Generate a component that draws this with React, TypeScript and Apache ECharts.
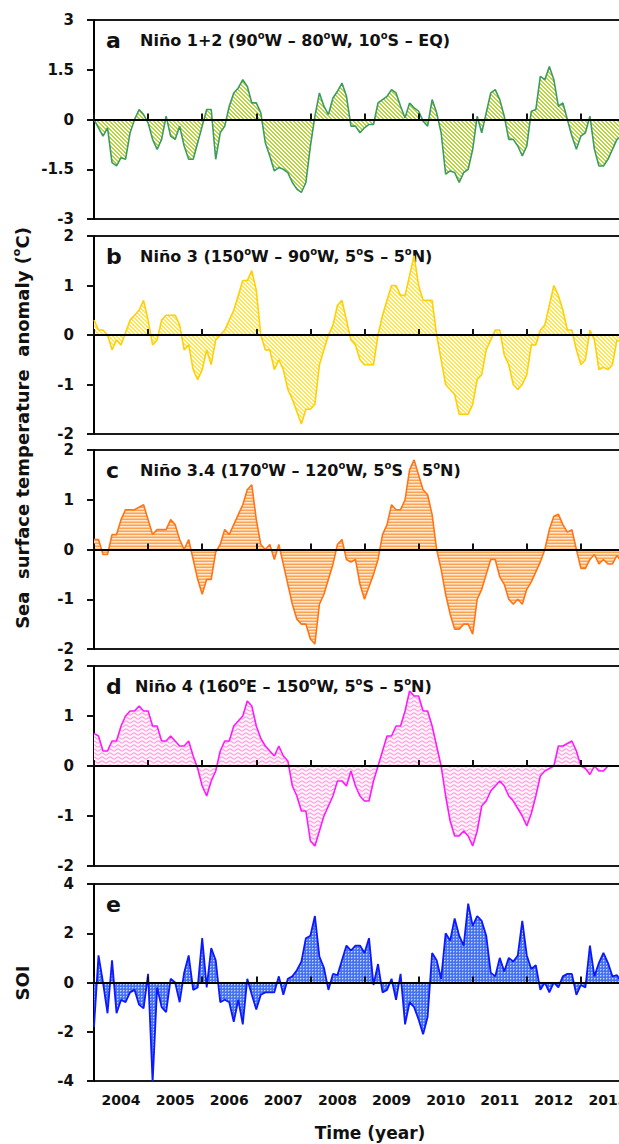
import React, { useEffect, useRef } from 'react';
import * as echarts from 'echarts';

const START_YEAR = 2004;
const END_YEAR = 2014;
const yearLabels = ['2004', '2005', '2006', '2007', '2008', '2009', '2010', '2011', '2012', '2013'];

// monthly values starting January 2004
const nino12 = [
  0.0, -0.25, -0.5, -0.25, -1.3, -1.4, -1.15, -1.2, -0.4, 0.0,
  0.3, 0.15, -0.1, -0.6, -0.9, -0.6, 0.1, -0.5, -0.6, -0.2,
  -0.8, -1.2, -1.2, -0.7, -0.2, 0.3, 0.3, -1.2, -0.4, -0.2,
  0.4, 0.8, 0.95, 1.2, 1.0, 0.5, 0.5, 0.2, -0.7, -1.1,
  -1.55, -1.45, -1.5, -1.6, -1.9, -2.1, -2.2, -1.9, -0.8, 0.1,
  0.8, 0.4, 0.15, 0.65, 0.85, 1.1, 0.7, -0.2, -0.2, -0.4,
  -0.25, -0.15, -0.15, 0.5, 0.6, 0.7, 0.9, 0.8, 0.4, 0.05,
  0.5, 0.35, 0.25, -0.05, -0.2, 0.6, 0.2, -0.4, -1.65, -1.55,
  -1.6, -1.9, -1.6, -1.5, -0.9, 0.1, -0.4, 0.2, 0.8, 0.9,
  0.6, 0.1, -0.6, -0.6, -0.8, -1.1, -0.8, 0.25, 0.3, 1.3,
  1.2, 1.6, 1.2, 0.4, 0.5, 0.0, -0.5, -0.9, -0.5, -0.4,
  0.1, -0.9, -1.4, -1.4, -1.2, -0.9, -0.6, -0.5,
];

const nino3 = [
  0.3, 0.1, 0.1, 0.0, -0.3, -0.1, -0.2, 0.05, 0.3, 0.4,
  0.5, 0.7, 0.3, -0.2, -0.1, 0.3, 0.4, 0.4, 0.4, 0.2,
  -0.3, -0.2, -0.7, -0.9, -0.7, -0.3, -0.6, -0.1, 0.0, 0.1,
  0.3, 0.5, 0.8, 1.1, 1.1, 1.3, 0.9, 0.0, -0.3, -0.3,
  -0.7, -0.5, -0.7, -1.1, -1.3, -1.55, -1.8, -1.5, -1.5, -1.4,
  -0.6, -0.3, 0.0, 0.2, 0.6, 0.7, 0.3, -0.1, -0.2, -0.5,
  -0.6, -0.6, -0.6, 0.0, 0.4, 0.7, 1.0, 1.0, 0.8, 0.8,
  1.2, 1.6, 1.0, 0.7, 0.7, 0.7, 0.0, -0.5, -1.0, -1.1,
  -1.2, -1.6, -1.6, -1.6, -1.4, -0.9, -0.8, -0.3, -0.1, 0.1,
  0.1, -0.4, -0.6, -1.0, -1.1, -1.0, -0.8, -0.2, -0.2, 0.1,
  0.2, 0.6, 1.0, 0.8, 0.5, 0.1, 0.1, -0.3, -0.6, -0.5,
  0.1, -0.1, -0.7, -0.65, -0.7, -0.6, -0.1, -0.15,
];

const nino34 = [
  0.2, 0.2, -0.1, -0.1, 0.3, 0.3, 0.6, 0.8, 0.8, 0.8,
  0.85, 0.9, 0.6, 0.3, 0.4, 0.4, 0.4, 0.6, 0.5, 0.2,
  0.0, 0.2, -0.2, -0.6, -0.9, -0.6, -0.6, -0.05, 0.1, 0.4,
  0.3, 0.5, 0.7, 0.9, 1.2, 1.3, 0.6, 0.1, 0.0, 0.1,
  -0.2, 0.1, -0.3, -0.7, -1.1, -1.4, -1.5, -1.5, -1.8, -1.9,
  -1.1, -0.9, -0.6, -0.3, 0.1, 0.2, -0.2, -0.25, -0.2, -0.7,
  -1.0, -0.75, -0.5, -0.2, 0.3, 0.5, 0.9, 0.8, 0.8, 1.0,
  1.6, 1.8, 1.5, 1.2, 1.1, 0.7, 0.0, -0.4, -0.9, -1.3,
  -1.6, -1.6, -1.5, -1.5, -1.7, -1.0, -0.8, -0.5, -0.2, -0.2,
  -0.55, -0.7, -1.0, -1.1, -1.0, -1.1, -0.8, -0.65, -0.45, -0.25,
  0.0, 0.4, 0.67, 0.71, 0.5, 0.35, 0.4, 0.0, -0.38, -0.38,
  -0.2, -0.1, -0.29, -0.2, -0.29, -0.29, -0.12, -0.25,
];

const nino4 = [
  0.65, 0.6, 0.3, 0.3, 0.5, 0.5, 0.8, 1.0, 1.1, 1.1,
  1.2, 1.1, 1.1, 0.8, 0.8, 0.5, 0.5, 0.6, 0.5, 0.4,
  0.4, 0.5, 0.2, -0.05, -0.4, -0.6, -0.3, -0.1, 0.3, 0.5,
  0.5, 0.8, 0.9, 1.0, 1.3, 1.2, 0.8, 0.55, 0.4, 0.3,
  0.2, 0.4, 0.2, 0.1, -0.4, -0.6, -0.9, -0.9, -1.5, -1.6,
  -1.3, -1.0, -0.8, -0.6, -0.3, -0.3, -0.4, -0.1, -0.4, -0.6,
  -0.7, -0.7, -0.3, 0.0, 0.3, 0.6, 0.6, 0.8, 0.8, 1.1,
  1.5, 1.4, 1.4, 1.1, 1.1, 0.8, 0.4, 0.0, -0.6, -1.1,
  -1.4, -1.4, -1.3, -1.4, -1.6, -1.3, -0.8, -0.7, -0.5, -0.4,
  -0.3, -0.4, -0.6, -0.7, -0.85, -1.0, -1.2, -0.95, -0.6, -0.2,
  -0.1, -0.05, 0.0, 0.4, 0.4, 0.45, 0.5, 0.3, 0.0, -0.05,
  -0.17, 0.0, -0.1, -0.1, 0.0,
];

const soi = [
  -1.8, 1.1, 0.0, -1.25, 0.9, -1.25, -0.7, -0.8, -0.4, -0.3,
  -0.9, -1.05, 0.35, -4.05, -0.2, -1.0, -1.2, 0.15, 0.0, -0.8,
  0.4, 1.1, -0.3, -0.2, 1.8, -0.2, 1.4, 0.9, -0.8, -0.7,
  -0.8, -1.6, -0.7, -1.7, 0.15, -0.5, -1.1, -0.5, -0.4, -0.4,
  -0.4, 0.25, -0.5, 0.15, 0.25, 0.5, 0.85, 1.8, 1.9, 2.7,
  1.05, 0.6, -0.3, 0.35, 0.3, 0.9, 1.5, 1.3, 1.5, 1.5,
  1.2, 1.8, -0.1, 0.75, -0.4, -0.3, 0.15, -0.7, 0.35, -1.7,
  -0.8, -1.0, -1.5, -2.1, -1.4, 1.2, 0.9, 0.15, 2.0, 1.7,
  2.6, 1.9, 1.5, 3.2, 2.3, 2.7, 2.5, 1.9, 0.4, 0.25,
  1.0, 0.45, 1.0, 0.85, 1.1, 2.5, 1.1, 0.55, 0.7, -0.3,
  0.0, -0.4, 0.0, -0.2, 0.25, 0.35, 0.35, -0.5, -0.1, -0.2,
  1.5, 0.25, 0.8, 1.2, 0.8, 0.25, 0.3, 0.0,
];

const panelLetters = ['a', 'b', 'c', 'd', 'e'];
const panelTitles = [
  'Niño 1+2 (90°W – 80°W, 10°S – EQ)',
  'Niño 3 (150°W – 90°W, 5°S – 5°N)',
  'Niño 3.4 (170°W – 120°W, 5°S – 5°N)',
  'Niño 4 (160°E – 150°W, 5°S – 5°N)',
  '',
];
const yRanges = [
  { min: -3, max: 3, interval: 1.5 },
  { min: -2, max: 2, interval: 1 },
  { min: -2, max: 2, interval: 1 },
  { min: -2, max: 2, interval: 1 },
  { min: -4, max: 4, interval: 2 },
];

const FONT = 'DejaVu Sans';

function makeCanvas(w: number, h: number, draw: (ctx: CanvasRenderingContext2D) => void) {
  const c = document.createElement('canvas');
  c.width = w;
  c.height = h;
  const ctx = c.getContext('2d') as CanvasRenderingContext2D;
  draw(ctx);
  return c;
}

function patternOf(c: HTMLCanvasElement) {
  return { image: c, repeat: 'repeat', imageWidth: c.width, imageHeight: c.height } as any;
}

function diagonal(fg: string) {
  return makeCanvas(4, 4, (ctx) => {
    ctx.fillStyle = '#ffffff';
    ctx.fillRect(0, 0, 4, 4);
    ctx.fillStyle = fg;
    for (let x = 0; x < 4; x++) {
      for (let y = 0; y < 4; y++) {
        const d = (((x - y) % 4) + 4) % 4;
        if (d === 0 || d === 1) ctx.fillRect(x, y, 1, 1);
      }
    }
  });
}

function horizontal() {
  return makeCanvas(4, 3, (ctx) => {
    ctx.fillStyle = '#ffa24f';
    ctx.fillRect(0, 0, 4, 1);
    ctx.fillStyle = '#ffe6cc';
    ctx.fillRect(0, 1, 4, 1);
    ctx.fillStyle = '#ffc790';
    ctx.fillRect(0, 2, 4, 1);
  });
}

function wavy() {
  return makeCanvas(8, 4, (ctx) => {
    ctx.fillStyle = '#fff4fb';
    ctx.fillRect(0, 0, 8, 4);
    ctx.strokeStyle = '#ff9bd8';
    ctx.lineWidth = 1.1;
    ctx.beginPath();
    for (let x = -1; x <= 9; x += 0.5) {
      const y = 2 + 1.1 * Math.sin((2 * Math.PI * x) / 8);
      if (x === -1) ctx.moveTo(x, y);
      else ctx.lineTo(x, y);
    }
    ctx.stroke();
  });
}

function dotted() {
  return makeCanvas(3, 3, (ctx) => {
    ctx.fillStyle = '#4673f2';
    ctx.fillRect(0, 0, 3, 3);
    ctx.fillStyle = '#7e9cf8';
    ctx.fillRect(1, 0, 1, 1);
    ctx.fillRect(0, 1, 1, 1);
    ctx.fillStyle = '#c9d7ff';
    ctx.fillRect(0, 0, 1, 1);
  });
}

const toXY = (arr: number[]) => arr.map((v, i) => [START_YEAR + i / 12, v]);

function supRich(title: string) {
  const parts = title.split('°');
  return parts.map((p, i) => (i < parts.length - 1 ? `{t|${p}}{s|o}` : `{t|${p}}`)).join('');
}

export default function App() {
  const ref = useRef<HTMLDivElement>(null);

  useEffect(() => {
    if (!ref.current) return;
    const chart = echarts.init(ref.current, undefined, { renderer: 'svg' });

    const grids = [
      { top: 20, height: 199 },
      { top: 236, height: 198 },
      { top: 450, height: 199 },
      { top: 666, height: 200 },
      { top: 884, height: 197 },
    ];

    const fills = [
      patternOf(diagonal('#b7d43a')),
      patternOf(diagonal('#ffe74a')),
      patternOf(horizontal()),
      patternOf(wavy()),
      patternOf(dotted()),
    ];
    const lineColors = ['#3d9b62', '#ffcf0a', '#ff7419', '#ff19ff', '#0c18ff'];
    const seriesData = [nino12, nino3, nino34, nino4, soi];
    const seriesNames = ['Niño 1+2', 'Niño 3', 'Niño 3.4', 'Niño 4', 'SOI'];

    const xAxes: any[] = grids.map((_, i) => ({
      type: 'value',
      gridIndex: i,
      min: START_YEAR,
      max: END_YEAR,
      interval: 1,
      z: 5,
      axisLine: { show: true, onZero: true, lineStyle: { color: '#000', width: 2 } },
      axisTick: { show: true, inside: true, length: 6, lineStyle: { color: '#111', width: 2 } },
      axisLabel: { show: false },
      splitLine: { show: false },
    }));
    xAxes.push({
      type: 'category',
      gridIndex: 4,
      position: 'bottom',
      data: yearLabels,
      boundaryGap: true,
      axisLine: { show: false, onZero: false },
      axisTick: { show: false },
      splitLine: { show: false },
      axisLabel: {
        show: true,
        margin: 12,
        fontSize: 14,
        fontWeight: 'bold',
        fontFamily: FONT,
        color: '#111',
      },
    });

    const yAxes = grids.map((_, i) => ({
      type: 'value',
      gridIndex: i,
      min: yRanges[i].min,
      max: yRanges[i].max,
      interval: yRanges[i].interval,
      axisLine: { show: true, onZero: false, lineStyle: { color: '#000', width: 2 } },
      axisTick: { show: true, length: 7, lineStyle: { color: '#111', width: 2 } },
      axisLabel: {
        margin: 20,
        fontSize: 15,
        fontWeight: 'bold',
        fontFamily: FONT,
        color: '#111',
      },
      splitLine: { show: false },
    }));

    const series = seriesData.map((d, i) => ({
      type: 'line',
      name: seriesNames[i],
      xAxisIndex: i,
      yAxisIndex: i,
      data: toXY(d),
      symbol: 'none',
      showSymbol: false,
      lineStyle: { color: lineColors[i], width: i === 4 ? 1.8 : 1.6 },
      itemStyle: { color: lineColors[i] },
      areaStyle: { color: fills[i], opacity: 1, origin: 0 },
      z: 2,
    }));

    const titleRich = {
      t: { fontSize: 16, fontWeight: 'bold', fontFamily: FONT, fill: '#111', lineHeight: 20 },
      s: { fontSize: 10, fontWeight: 'bold', fontFamily: FONT, fill: '#111', lineHeight: 12, verticalAlign: 'top' },
    };

    const graphic: any[] = [];
    grids.forEach((g, i) => {
      graphic.push({
        type: 'text',
        x: 106,
        y: g.top + 20,
        style: {
          text: panelLetters[i],
          font: `bold 22px "${FONT}"`,
          fill: '#111',
          verticalAlign: 'middle',
          align: 'left',
        },
      });
      if (panelTitles[i]) {
        graphic.push({
          type: 'text',
          x: i === 3 ? 135 : 140,
          y: g.top + 20,
          style: {
            text: supRich(panelTitles[i]),
            rich: titleRich,
            verticalAlign: 'middle',
            align: 'left',
          },
        });
      }
    });

    graphic.push({
      type: 'text',
      x: 22,
      y: 428,
      rotation: Math.PI / 2,
      style: {
        text: '{t|Sea  surface temperature  anomaly (}{s|o}{t|C)}',
        rich: {
          t: { fontSize: 18, fontWeight: 'bold', fontFamily: FONT, fill: '#111', lineHeight: 22 },
          s: { fontSize: 11, fontWeight: 'bold', fontFamily: FONT, fill: '#111', lineHeight: 13, verticalAlign: 'top' },
        },
        align: 'center',
        verticalAlign: 'middle',
      },
    });
    graphic.push({
      type: 'text',
      x: 22,
      y: 983,
      rotation: Math.PI / 2,
      style: {
        text: 'SOI',
        font: `bold 18px "${FONT}"`,
        fill: '#111',
        align: 'center',
        verticalAlign: 'middle',
      },
    });
    graphic.push({
      type: 'text',
      x: 370,
      y: 1133,
      style: {
        text: 'Time (year)',
        font: `bold 17px "${FONT}"`,
        fill: '#111',
        align: 'center',
        verticalAlign: 'middle',
      },
    });

    chart.setOption({
      animation: false,
      backgroundColor: '#ffffff',
      grid: grids.map((g) => ({
        left: 94,
        right: 25,
        top: g.top,
        height: g.height,
        show: true,
        borderColor: '#1a1a1a',
        borderWidth: 2,
        backgroundColor: 'transparent',
      })),
      xAxis: xAxes,
      yAxis: yAxes,
      series,
      graphic,
    } as any);

    return () => chart.dispose();
  }, []);

  return (
    <div style={{ position: 'absolute', left: 0, top: 0, width: 619, height: 1144, overflow: 'hidden', background: '#fff' }}>
      <div ref={ref} style={{ width: 660, height: 1144 }} />
    </div>
  );
}
